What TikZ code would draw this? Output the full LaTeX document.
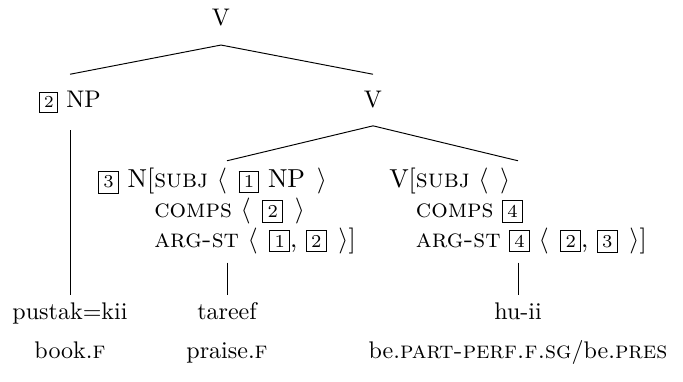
\documentclass[tikz,border=0pt]{standalone}
\newcommand{\tagbox}[1]{{\setlength{\fboxsep}{1.6pt}\fbox{\scriptsize #1}}}
\newcommand{\lbr}{$\langle$\hspace{0.45em}}
\newcommand{\rbr}{\hspace{0.45em}$\rangle$}
\newcommand{\avm}[1]{\scalebox{1.08}{\def\arraystretch{0.95}%
  \begin{tabular}[t]{@{}r@{}l@{}}#1\end{tabular}}}
\tikzset{cat/.style={anchor=base,inner ysep=7pt},
         word/.style={anchor=base}}

\begin{document}
\begin{tikzpicture}[x=0.01462cm,y=-0.01462cm]
      \useasboundingbox (0,0) rectangle (683,382);

      \node[cat,inner ysep=7.5pt] (vtop) at (221,26) {V};
      \node[cat] (np)   at (70,108)  {\tagbox{2} NP};
      \node[cat] (vbar) at (373,108) {V};

      % the noun: tareef
      \node[anchor=base,inner ysep=2.5pt] (navm) at (227,188) {\avm{%
        \tagbox{3} N[ & \textsc{subj} \lbr\tagbox{1} NP\rbr\\
                      & \textsc{comps} \lbr\tagbox{2}\rbr\\
                      & \textsc{arg-st} \lbr\tagbox{1}, \tagbox{2}\rbr]}};
      % the light verb: hu-ii
      \node[anchor=base,inner ysep=2.5pt] (vavm) at (518,188) {\avm{%
        V[ & \textsc{subj} \lbr$\rangle$\\
           & \textsc{comps} \tagbox{4}\\
           & \textsc{arg-st} \tagbox{4} \lbr\tagbox{2}, \tagbox{3}\rbr]}};

      \node[word] (w1) at (70,320)  {pustak=kii};
      \node[word] (w2) at (227,320) {tareef};
      \node[word] (w3) at (518,320) {hu-ii};
      \node[word] (g1) at (70,358)  {book.\textsc{f}};
      \node[word] (g2) at (227,358) {praise.\textsc{f}};
      \node[word] (g3) at (518,358) {be.\textsc{part-perf.f.sg}/be.\textsc{pres}};

      \draw (vtop.south) -- (np.north);
      \draw (vtop.south) -- (vbar.north);
      \draw (vbar.south) -- (navm.north);
      \draw (vbar.south) -- (vavm.north);
      \draw (np.south)   -- (w1.north);
      \draw (navm.south) -- (w2.north);
      \draw (vavm.south) -- (w3.north);
    \end{tikzpicture}
\end{document}
